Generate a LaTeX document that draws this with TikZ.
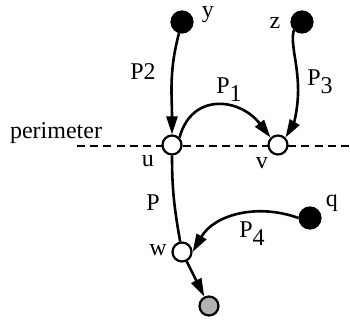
\documentclass[tikz,border=0pt]{standalone}
\usepackage{fontspec}
\setmainfont{Liberation Serif}
\usetikzlibrary{arrows.meta,positioning}

\tikzset{
  vtx/.style={circle,draw,line width=1.1pt,minimum size=9.5pt,inner sep=0pt},
  src/.style={vtx,fill=black,minimum size=10.5pt},
  gate/.style={vtx,fill=white},
  sink/.style={vtx,fill=black!30},
  pth/.style={line width=1.3pt,-{Triangle[length=9pt,width=5.5pt]}},
  lbl/.style={inner sep=0pt,font=\fontsize{12}{14}\selectfont},
}

\begin{document}
\begin{tikzpicture}[x=0.5pt,y=-0.5pt]
\useasboundingbox (0,0) rectangle (350,321);
% perimeter line
\coordinate (pl) at (77,146);
\coordinate (pr) at (350,146);
\draw[line width=1.2pt,dash pattern=on 4pt off 2.6pt] (pl) -- (pr);
\node[lbl] (perim) at (56,133) {perimeter};
% vertices
\node[src] (y) at (182,22) {};
\node[src] (z) at (302,22) {};
\node[src] (q) at (310,218) {};
\node[gate] (u) at (172,145) {};
\node[gate] (v) at (278,145) {};
\node[gate] (w) at (182,252) {};
\node[sink] (t) at (209,306) {};
% vertex labels
\node[lbl] (ly) at (208,15) {y};
\node[lbl] (lz) at (275,23) {z};
\node[lbl] (lq) at (332,203) {q};
\node[lbl] (lu) at (148,161) {u};
\node[lbl] (lv) at (262,163) {v};
\node[lbl] (lw) at (158,250) {w};
% paths
\draw[pth] (y) to[out=-105,in=90] (u);
\draw[pth] (z.south west) .. controls (290,45) and (299,65) .. (298,95)
  .. controls (297,115) and (293,125) .. (v.north east);
\draw[pth] (u.north east) .. controls (192,92) and (240,98) .. (v.north west);
\draw[line width=1.3pt] (u) to[out=-90,in=100] (w);
\draw[pth] (q.west) to[out=160,in=60] (w.east);
\draw[pth] (w) -- (t);
% path labels
\node[lbl] (p2) at (143,72) {P2};
\node[lbl] (p1) at (229,90) {P\raisebox{-4pt}{1}};
\node[lbl] (p3) at (320,82) {P\raisebox{-4pt}{3}};
\node[lbl] (p) at (153,203) {P};
\node[lbl] (p4) at (252,234) {P\raisebox{-4pt}{4}};
\end{tikzpicture}
\end{document}
